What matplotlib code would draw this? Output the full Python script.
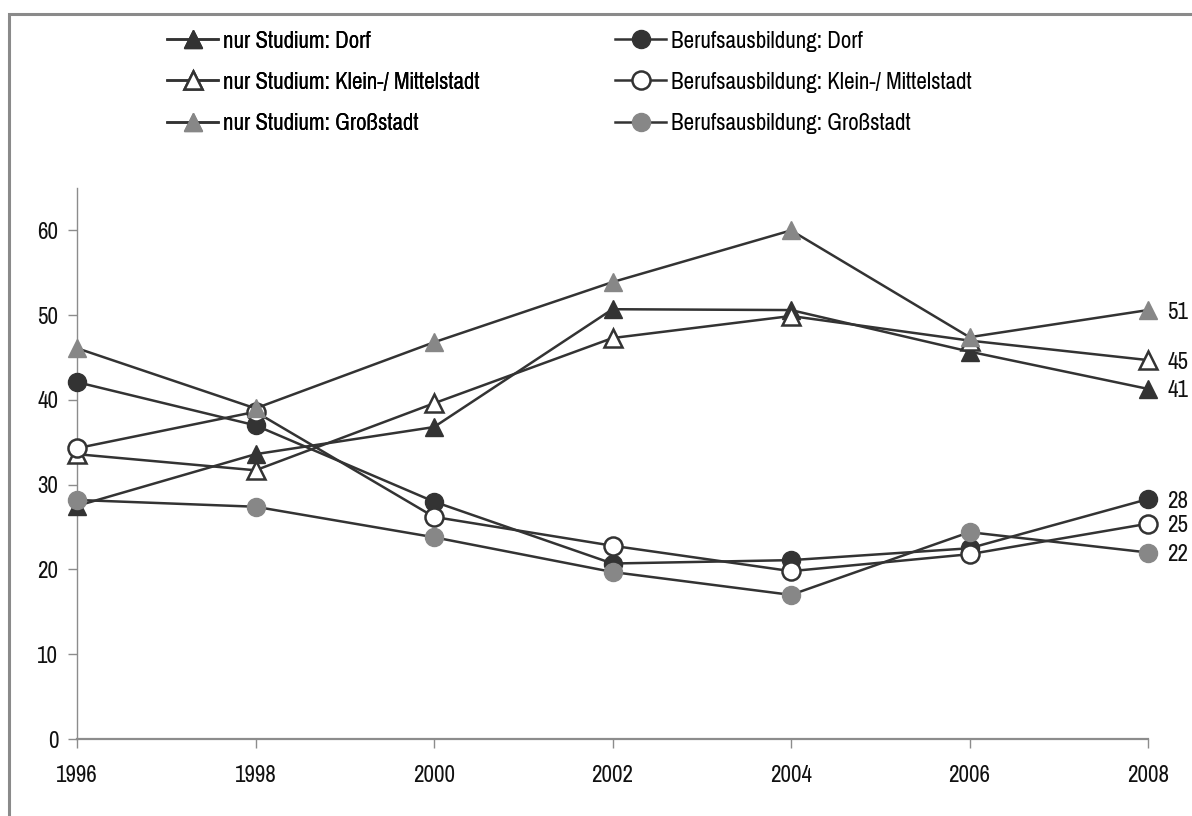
import matplotlib
matplotlib.use("Agg")
import matplotlib.pyplot as plt
from matplotlib import font_manager
from matplotlib.font_manager import FontProperties
from matplotlib.patches import Rectangle


def narrow_font_path():
    for fam in ("Liberation Sans Narrow", "Arial Narrow", "Pragati Narrow",
                "PT Sans Narrow", "Archivo Narrow"):
        try:
            return font_manager.findfont(FontProperties(family=fam),
                                         fallback_to_default=False)
        except Exception:
            continue
    return None


FONT_SIZE = 18
_path = narrow_font_path()
FP = FontProperties(fname=_path, size=FONT_SIZE) if _path else \
    FontProperties(family="Liberation Sans", size=15)

years = [1996, 1998, 2000, 2002, 2004, 2006, 2008]

studium_dorf = [27.5, 33.6, 36.8, 50.7, 50.6, 45.7, 41.3]
studium_klein = [33.6, 31.7, 39.6, 47.3, 49.9, 47.0, 44.7]
studium_gross = [46.1, 39.0, 46.8, 53.9, 60.0, 47.4, 50.6]
ausbildung_dorf = [42.1, 37.0, 28.0, 20.7, 21.1, 22.5, 28.3]
ausbildung_klein = [34.3, 38.6, 26.2, 22.8, 19.8, 21.8, 25.4]
ausbildung_gross = [28.2, 27.4, 23.8, 19.7, 17.0, 24.4, 22.0]

labels = {
    "sd": "nur Studium: Dorf",
    "sk": "nur Studium: Klein-/ Mittelstadt",
    "sg": "nur Studium: Großstadt",
    "ad": "Berufsausbildung: Dorf",
    "ak": "Berufsausbildung: Klein-/ Mittelstadt",
    "ag": "Berufsausbildung: Großstadt",
}

DARK = "#333333"
GRAY = "#878787"
AXIS = "#8c8c8c"
TEXT = "#111111"

W, H = 1192, 816
fig = plt.figure(figsize=(W / 100, H / 100), dpi=100)

# Outer frame of the chart area
fig.patches.append(Rectangle((8.5 / W, -0.05), 1.2, 1 - 13.5 / H + 0.05,
                             transform=fig.transFigure, fill=False,
                             edgecolor="#8a8a8a", linewidth=2.2))

left, right, bottom, top = 77, 1148, 739, 188
ax = fig.add_axes([left / W, 1 - bottom / H, (right - left) / W, (bottom - top) / H])

styles = {
    "sd": dict(marker="^", mfc=DARK, mec=DARK, mew=1.0),
    "ad": dict(marker="o", mfc=DARK, mec=DARK, mew=1.0),
    "sk": dict(marker="^", mfc="white", mec=DARK, mew=1.8),
    "ak": dict(marker="o", mfc="white", mec=DARK, mew=1.8),
    "sg": dict(marker="^", mfc=GRAY, mec=GRAY, mew=1.0),
    "ag": dict(marker="o", mfc=GRAY, mec=GRAY, mew=1.0),
}
series = {
    "sd": studium_dorf, "ad": ausbildung_dorf,
    "sk": studium_klein, "ak": ausbildung_klein,
    "sg": studium_gross, "ag": ausbildung_gross,
}

handles = {}
for z, key in enumerate(["sd", "ad", "sk", "ak", "sg", "ag"]):
    st = styles[key]
    (h,) = ax.plot(years, series[key], color=DARK, linewidth=1.8, markersize=13,
                   label=labels[key], zorder=3 + z, clip_on=False, **st)
    handles[key] = h
    last = series[key][-1]
    ax.annotate(f"{round(last)}", xy=(years[-1], last), xytext=(14, 0),
                textcoords="offset points", va="center_baseline", ha="left",
                fontproperties=FP, color=TEXT, annotation_clip=False)

ax.set_xlim(1996, 2008)
ax.set_ylim(0, 65)
ax.set_xticks(years)
ax.set_yticks(range(0, 61, 10))
ax.tick_params(axis="both", colors=AXIS, labelcolor=TEXT, length=6.5, width=1.0)
ax.tick_params(axis="x", pad=12)
ax.tick_params(axis="y", pad=7)
for lab in ax.get_xticklabels() + ax.get_yticklabels():
    lab.set_fontproperties(FP)
for lab in ax.get_yticklabels():
    lab.set_verticalalignment("center_baseline")
for s in ("top", "right"):
    ax.spines[s].set_visible(False)
for s in ("left", "bottom"):
    ax.spines[s].set_color(AXIS)
    ax.spines[s].set_linewidth(1.0)
ax.spines["bottom"].set_linewidth(1.6)

# Two legend columns placed independently
fs_px = FONT_SIZE * 100 / 72
leg_kw = dict(loc="upper left", frameon=False, prop=FP,
              handlelength=51 / fs_px, handletextpad=5 / fs_px,
              labelspacing=0.8, borderpad=0, borderaxespad=0)
col1 = ["sd", "sk", "sg"]
col2 = ["ad", "ak", "ag"]
leg1 = fig.legend([handles[k] for k in col1], [labels[k] for k in col1],
                  bbox_to_anchor=(167 / W, 1 - 30 / H), **leg_kw)
fig.add_artist(leg1)
fig.legend([handles[k] for k in col2], [labels[k] for k in col2],
           bbox_to_anchor=(615 / W, 1 - 30 / H), **leg_kw)

fig.savefig("out.png", dpi=100)
